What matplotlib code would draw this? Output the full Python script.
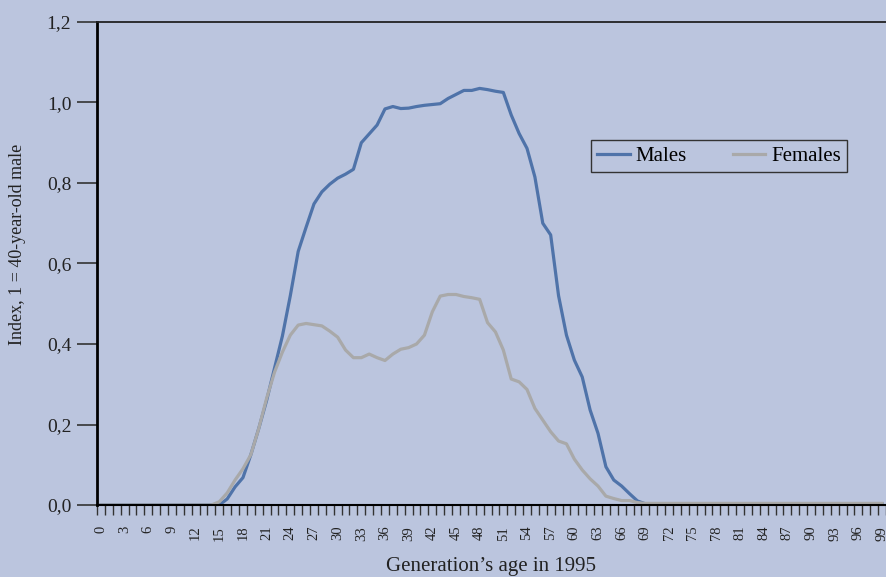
import numpy as np
import matplotlib.pyplot as plt

# ages 0..99, index relative to a 40-year-old male
ages = list(range(100))

males = ([0.0] * 16 +
         [0.015, 0.045, 0.068, 0.125, 0.19, 0.26, 0.34, 0.42, 0.52, 0.63,
          0.69, 0.748, 0.778, 0.797, 0.812, 0.822, 0.834, 0.90, 0.922, 0.944,
          0.984, 0.99, 0.985, 0.986, 0.99, 0.993, 0.995, 0.997, 1.01, 1.02,
          1.03, 1.03, 1.035, 1.032, 1.028, 1.025, 0.969, 0.923, 0.886, 0.815,
          0.70, 0.671, 0.52, 0.422, 0.36, 0.318, 0.236, 0.178, 0.095, 0.062,
          0.047, 0.028, 0.01] +
         [0.003] * 31)

females = ([0.0] * 15 +
           [0.008, 0.03, 0.062, 0.09, 0.125, 0.19, 0.265, 0.33, 0.38, 0.422,
            0.447, 0.451, 0.448, 0.445, 0.432, 0.417, 0.385, 0.366, 0.366, 0.375,
            0.366, 0.359, 0.375, 0.387, 0.391, 0.40, 0.422, 0.48, 0.519, 0.523,
            0.523, 0.518, 0.515, 0.511, 0.453, 0.43, 0.385, 0.313, 0.306, 0.287,
            0.24, 0.211, 0.182, 0.159, 0.152, 0.114, 0.087, 0.065, 0.047, 0.022,
            0.016, 0.011, 0.011, 0.006] +
           [0.004] * 31)

yticks = [0.0, 0.2, 0.4, 0.6, 0.8, 1.0, 1.2]
ytick_labels = ['0,0', '0,2', '0,4', '0,6', '0,8', '1,0', '1,2']
xtick_pos = list(range(0, 100, 3))

bg = '#bbc5de'
blue = '#4f73a9'
grey = '#a9a9a9'

plt.rcParams['font.family'] = ['Liberation Serif', 'DejaVu Serif']

fig = plt.figure(figsize=(8.86, 5.77), dpi=100, facecolor=bg)
W, H = 886, 577
ax = fig.add_axes([97 / W, 72 / H, (886 - 97) / W, (505 - 22) / H])
ax.set_facecolor(bg)

ax.plot(ages, males, color=blue, lw=2.3, label='Males', solid_joinstyle='round')
ax.plot(ages, females, color=grey, lw=2.3, label='Females', solid_joinstyle='round')

ax.set_xlim(-0.5, 99.5)
ax.set_ylim(0, 1.2)

ax.set_yticks(yticks)
ax.set_yticklabels(ytick_labels, fontsize=14, color='#222222')
ax.tick_params(axis='y', length=14.5, width=1.2, color='#333333', pad=4)

ax.set_xticks(xtick_pos)
ax.set_xticklabels([str(v) for v in xtick_pos], rotation=90, fontsize=10.5,
                   color='#222222')
ax.set_xticks(np.arange(-0.5, 100, 1), minor=True)
ax.tick_params(axis='x', which='major', length=0, pad=15)
ax.tick_params(axis='x', which='minor', length=7.5, width=1.0, color='#333333')

ax.spines['right'].set_visible(False)
ax.spines['left'].set_linewidth(2.0)
ax.spines['left'].set_color('black')
ax.spines['bottom'].set_linewidth(1.5)
ax.spines['bottom'].set_color('black')
ax.spines['top'].set_linewidth(1.3)
ax.spines['top'].set_color('#222222')

fig.text(491 / W, 1 - 567 / H, 'Generation\u2019s age in 1995', ha='center',
         va='center', fontsize=15, color='#222222')
fig.text(18 / W, 1 - 244 / H, 'Index, 1 = 40-year-old male', rotation=90,
         ha='center', va='center', fontsize=13, color='#222222')

leg = ax.legend(loc='upper left', bbox_to_anchor=(591 / W, 1 - 140 / H),
                bbox_transform=fig.transFigure, ncol=2, fontsize=15,
                frameon=True, fancybox=False, handlelength=1.55,
                handletextpad=0.3, columnspacing=2.2, borderpad=0.3,
                borderaxespad=0)
leg.get_frame().set_facecolor(bg)
leg.get_frame().set_edgecolor('#333333')
leg.get_frame().set_linewidth(1.0)
leg.get_frame().set_alpha(1)

fig.savefig('out.png', dpi=100, facecolor=bg)
